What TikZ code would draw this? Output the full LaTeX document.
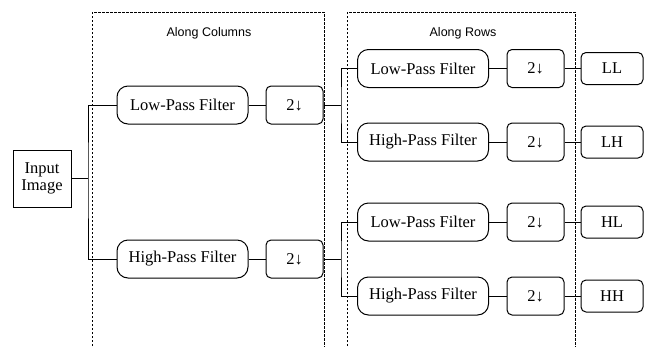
\documentclass[tikz,border=0pt]{standalone}
\usepackage{fontspec}
\setmainfont{Liberation Serif}
\setsansfont{Liberation Sans}
\newcommand{\dsa}{2\textbf{↓}}
\begin{document}
\begin{tikzpicture}[x=1pt,y=-1pt,
  every node/.style={inner sep=0pt,draw,line width=1pt,font=\fontsize{16.5}{19}\selectfont},
  filt/.style={rounded corners=11pt,minimum width=131pt,minimum height=38pt},
  ds/.style={rounded corners=5pt,minimum width=57pt,minimum height=38pt},
  outb/.style={rounded corners=5pt,minimum width=62pt,minimum height=32pt},
  conn/.style={line width=1pt},
  grp/.style={line width=0.7pt,dash pattern=on 2.5pt off 1.5pt},
  lbl/.style={draw=none,font=\sffamily\fontsize{12.5}{14}\selectfont}]
\useasboundingbox (0,0) rectangle (645,346);
\fill[white] (0,0) rectangle (645,346);
% groups
\draw[grp] (92,350) -- (92,12) -- (324,12) -- (324,350);
\draw[grp] (347,350) -- (347,12) -- (575,12) -- (575,350);
\node[lbl] (gc) at (209,33) {Along Columns};
\node[lbl] (gr) at (463,33) {Along Rows};
% input
\node[minimum width=58pt,minimum height=57pt,align=center] (inp) at (42,178.5) {Input\\[-2pt]Image};
% column stage
\node[filt] (c1lp) at (182.5,105) {Low-Pass Filter};
\node[ds] (c1ds) at (294.5,105) {\dsa};
\node[filt] (c2hp) at (182.5,259) {High-Pass Filter};
\node[ds] (c2ds) at (294.5,259) {\dsa};
% row stage
\node[filt] (r1lp) at (423,68.5) {Low-Pass Filter};
\node[ds] (r1ds) at (535.5,68.5) {\dsa};
\node[outb] (oll) at (612,68.5) {LL};
\node[filt] (r1hp) at (423,142) {High-Pass Filter};
\node[ds] (r2ds) at (535.5,142) {\dsa};
\node[outb] (olh) at (612,142) {LH};
\node[filt] (r3lp) at (423,222) {Low-Pass Filter};
\node[ds] (r3ds) at (535.5,222) {\dsa};
\node[outb] (ohl) at (612,222) {HL};
\node[filt] (r4hp) at (423,296) {High-Pass Filter};
\node[ds] (r4ds) at (535.5,296) {\dsa};
\node[outb] (ohh) at (612,296) {HH};
% trunks
\coordinate (t1) at (88,178.5);
\coordinate (t2) at (341,105);
\coordinate (t3) at (341,259);
\draw[conn] (inp.east) -- (t1);
\draw[conn] (c1lp.west) -| (t1) |- (c2hp.west);
\draw[conn] (c1lp) -- (c1ds);
\draw[conn] (c2hp) -- (c2ds);
\draw[conn] (c1ds.east) -- (t2);
\draw[conn] (r1lp.west) -| (t2) |- (r1hp.west);
\draw[conn] (c2ds.east) -- (t3);
\draw[conn] (r3lp.west) -| (t3) |- (r4hp.west);
\draw[conn] (r1lp) -- (r1ds) -- (oll);
\draw[conn] (r1hp) -- (r2ds) -- (olh);
\draw[conn] (r3lp) -- (r3ds) -- (ohl);
\draw[conn] (r4hp) -- (r4ds) -- (ohh);
\end{tikzpicture}
\end{document}
